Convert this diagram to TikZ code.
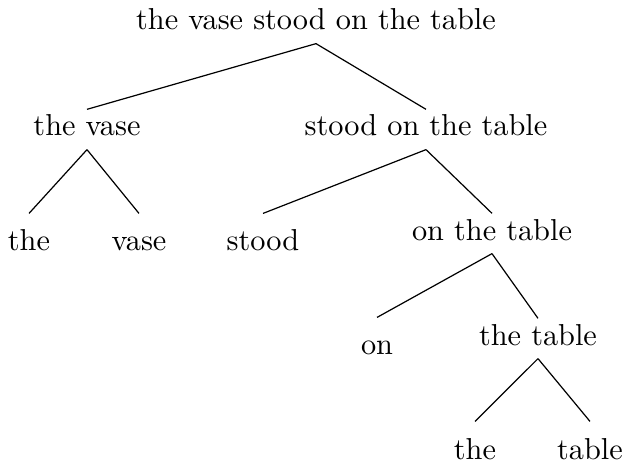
\documentclass[tikz,border=0pt]{standalone}
\begin{document}
\begin{tikzpicture}[x=0.33pt,y=-0.33pt]
\tikzset{
  phrase/.style={inner sep=0pt,anchor=base,text height=8.6pt,text depth=4.3pt},
  word/.style={inner sep=0pt,anchor=base,text height=12.2pt,text depth=0pt}
}
\useasboundingbox (0,0) rectangle (626,462);
\node[phrase] (sentence) at (316,30) {the vase stood on the table};
\node[phrase] (subject) at (87,136) {the vase};
\node[phrase] (predicate) at (426,136) {stood on the table};
\node[word] (det1) at (29,251) {the};
\node[word] (noun1) at (139,251) {vase};
\node[word] (verb) at (263,251) {stood};
\node[phrase] (pp) at (492,240) {on the table};
\node[word] (prep) at (377,355) {on};
\node[phrase] (object) at (538,345) {the table};
\node[word] (det2) at (475,459) {the};
\node[word] (noun2) at (590,459) {table};
\draw (sentence.south) -- (subject.north);
\draw (sentence.south) -- (predicate.north);
\draw (subject.south) -- (det1.north);
\draw (subject.south) -- (noun1.north);
\draw (predicate.south) -- (verb.north);
\draw (predicate.south) -- (pp.north);
\draw (pp.south) -- (prep.north);
\draw (pp.south) -- (object.north);
\draw (object.south) -- (det2.north);
\draw (object.south) -- (noun2.north);
\end{tikzpicture}
\end{document}
